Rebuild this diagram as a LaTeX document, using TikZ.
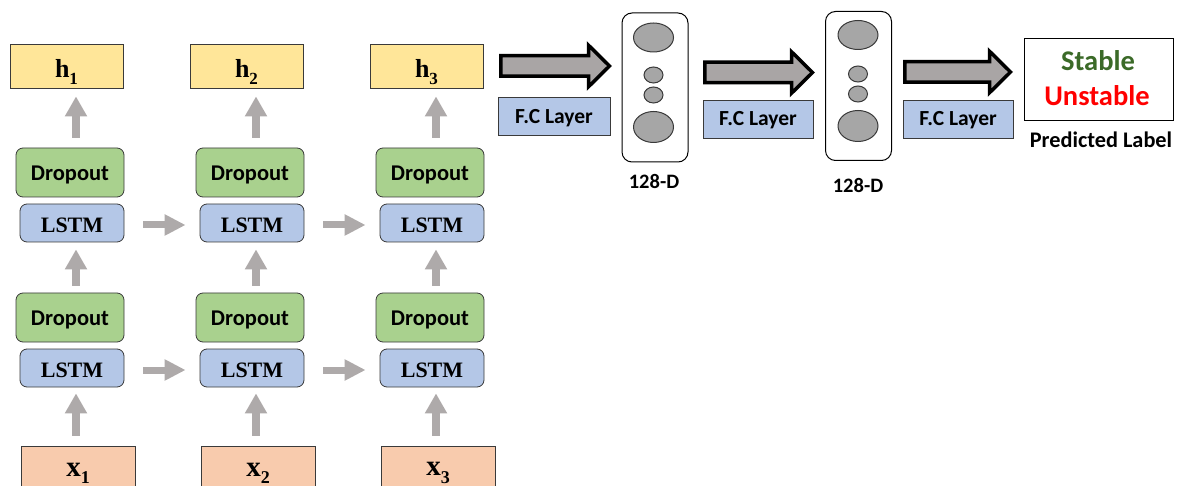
\documentclass[tikz,border=0pt]{standalone}
\usepackage{fontspec}
\setmainfont{Carlito}
\newfontfamily\serifbold{Liberation Serif}
\usetikzlibrary{arrows.meta,calc,shapes.geometric}

\definecolor{hyellow}{HTML}{FFE699}
\definecolor{dgreen}{HTML}{A9D18E}
\definecolor{lblue}{HTML}{B4C7E7}
\definecolor{xpeach}{HTML}{F8CBAD}
\definecolor{flowgray}{HTML}{AEAAAA}
\definecolor{blockgray}{HTML}{A9A5A5}
\definecolor{unitgray}{HTML}{A6A6A6}
\definecolor{stablegreen}{HTML}{3B6A28}
\definecolor{edgegray}{HTML}{3A3A3A}

% subscripted vector symbol, e.g. h_1
\newcommand\veclab[4]{{\serifbold\bfseries\fontsize{#3}{#3}\selectfont #1\raisebox{-0.25em}{\fontsize{#4}{#4}\selectfont #2}}}

% outlined block arrow from tail coordinate #1 to tip coordinate #2
\newcommand\blockarrow[2]{%
  \draw[blockarr] ($(#1)+(0,-10.25)$) -- ($(#2)+(-21,-10.25)$) -- ($(#2)+(-21,-20.75)$)
    -- (#2) -- ($(#2)+(-21,20.75)$) -- ($(#2)+(-21,10.25)$) -- ($(#1)+(0,10.25)$) -- cycle;}

\begin{document}
\begin{tikzpicture}[x=1pt,y=-1pt,
  hbox/.style={draw=edgegray, line width=0.8pt, fill=hyellow, minimum width=113pt, minimum height=44pt, inner sep=0pt, text height=24pt, text depth=0pt},
  dropbox/.style={draw=edgegray, line width=0.8pt, fill=dgreen, rounded corners=7pt, minimum width=108pt, minimum height=49pt, inner sep=0pt, text height=15.5pt, text depth=0pt, font=\bfseries\fontsize{22.5}{23}\selectfont},
  lstmbox/.style={draw=edgegray, line width=0.8pt, fill=lblue, rounded corners=7pt, minimum width=104pt, minimum height=38pt, inner sep=0pt, text height=19pt, text depth=0pt, font=\serifbold\bfseries\fontsize{22}{22}\selectfont},
  xbox/.style={draw=edgegray, line width=0.8pt, fill=xpeach, minimum width=114pt, minimum height=80pt, inner sep=0pt},
  fcbox/.style={draw=edgegray, line width=0.7pt, fill=lblue, minimum height=38pt, inner sep=0pt, text depth=0pt, font=\bfseries\fontsize{21.5}{22}\selectfont},
  panel/.style={draw=black, line width=1pt, rounded corners=10pt, minimum width=66pt, minimum height=149pt, inner sep=0pt},
  unit/.style={draw=edgegray, line width=1pt, fill=unitgray, ellipse, inner sep=0pt},
  garrow/.style={draw=flowgray, line width=7.5pt, -{Triangle[width=21pt,length=20pt]}},
  blockarr/.style={draw=black, line width=3.5pt, fill=blockgray, line join=miter},
  lbl/.style={inner sep=0pt, font=\bfseries\fontsize{20.5}{21}\selectfont}
]
\useasboundingbox (0,0) rectangle (1178,486);
\clip (0,0) rectangle (1178,486);

% stacked LSTM / dropout columns, one per time step
\foreach \dx/\i in {0/1,180/2,360/3}{
  \node[hbox] (h\i) at (66.5+\dx,66) {\veclab{h}{\i}{26}{17}};
  \node[dropbox] (dA\i) at (70+\dx,172.5) {Dropout};
  \node[lstmbox] (lA\i) at (72+\dx,223) {LSTM};
  \node[dropbox] (dB\i) at (70+\dx,317.5) {Dropout};
  \node[lstmbox] (lB\i) at (72+\dx,368) {LSTM};
  \node[xbox] (x\i) at (78+\dx,486) {};
  \node[inner sep=0pt] (xt\i) at (78+\dx,473) {\veclab{x}{\i}{29}{18}};
  \coordinate (ax\i) at (76+\dx,0);
  \draw[garrow, shorten <=10pt, shorten >=8pt] (dA\i.north -| ax\i) -- (h\i.south -| ax\i);
  \draw[garrow, shorten <=7pt, shorten >=7pt] (dB\i.north -| ax\i) -- (lA\i.south -| ax\i);
  \draw[garrow, shorten <=10pt, shorten >=6pt] (x\i.north -| ax\i) -- (lB\i.south -| ax\i);
}

% recurrent connections between time steps
\foreach \a/\b in {1/2,2/3}{
  \draw[garrow, line width=7pt, -{Triangle[width=20pt,length=21pt]}, shorten <=19pt, shorten >=14pt]
    ([yshift=-2pt]lA\a.east) -- ([yshift=-2pt]lA\b.west);
  \draw[garrow, line width=7pt, -{Triangle[width=20pt,length=21pt]}, shorten <=19pt, shorten >=14pt]
    ([yshift=-2pt]lB\a.east) -- ([yshift=-2pt]lB\b.west);
}

% fully connected head
\node[panel] (p1) at (655,87.5) {};
\node[unit, minimum width=40pt, minimum height=29pt] (p1a) at (653.5,37.5) {};
\node[unit, minimum width=19pt, minimum height=16pt] (p1b) at (653.5,75) {};
\node[unit, minimum width=19pt, minimum height=16pt] (p1c) at (653.5,95) {};
\node[unit, minimum width=40pt, minimum height=31pt] (p1d) at (653.5,127) {};
\node[lbl] (d1) at (654,182) {128-D};

\node[panel] (p2) at (858.5,86) {};
\node[unit, minimum width=40pt, minimum height=29pt] (p2a) at (858,35) {};
\node[unit, minimum width=19pt, minimum height=16pt] (p2b) at (858,74) {};
\node[unit, minimum width=19pt, minimum height=16pt] (p2c) at (858,94) {};
\node[unit, minimum width=40pt, minimum height=31pt] (p2d) at (858,126) {};
\node[lbl] (d2) at (858,186) {128-D};

\node[draw=black, line width=0.8pt, minimum width=149pt, minimum height=82pt, inner sep=0pt] (out) at (1098.5,79) {};
\node[inner sep=0pt, font=\bfseries\fontsize{28.5}{29}\selectfont, text=stablegreen] (st) at (1098,61) {Stable};
\node[inner sep=0pt, font=\bfseries\fontsize{28.5}{29}\selectfont, text=red] (ust) at (1097,96) {Unstable};
\node[inner sep=0pt, font=\bfseries\fontsize{22.3}{23}\selectfont] (pl) at (1101,140) {Predicted Label};

\coordinate (b1s) at (500.75,66);  \coordinate (b1e) at (609.5,66);
\coordinate (b2s) at (704.75,72.5); \coordinate (b2e) at (812.5,72.5);
\coordinate (b3s) at (904.75,72);  \coordinate (b3e) at (1010.5,72);
\blockarrow{b1s}{b1e}
\blockarrow{b2s}{b2e}
\blockarrow{b3s}{b3e}

\node[fcbox, minimum width=112pt, text height=14.8pt] (fc1) at (554,116) {F.C Layer};
\node[fcbox, minimum width=110pt, text height=13.8pt] (fc2) at (758,119) {F.C Layer};
\node[fcbox, minimum width=110pt, text height=13.8pt] (fc3) at (958,119) {F.C Layer};
\end{tikzpicture}
\end{document}
